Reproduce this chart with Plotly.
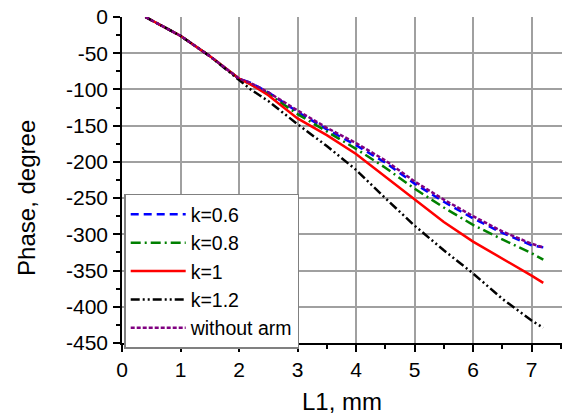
import plotly.graph_objects as go

# Arm length L1 (mm) sampled along each curve
L1 = [0.4, 1.0, 1.5, 2.0, 2.2, 2.5, 3.0, 3.5, 4.0, 4.5, 5.0, 5.5, 6.0, 6.5, 7.0, 7.2]

# Phase (degree) for each arm ratio k and for the reference without arm
phase_k06 = [0, -26, -54, -85, -91, -104, -131, -155, -177, -201, -230, -255, -278, -298, -315, -318]
phase_k08 = [0, -26, -54, -85, -93, -106, -134, -158, -182, -208, -237, -263, -287, -307, -326, -335]
phase_k10 = [0, -26, -54, -85, -93, -108, -140, -163, -189, -220, -252, -283, -310, -333, -357, -367]
phase_k12 = [0, -26, -54, -86, -100, -116, -148, -178, -211, -250, -288, -322, -354, -389, -419, -429]
phase_noarm = [0, -26, -54, -85, -91, -104, -129, -153, -174, -198, -227, -252, -275, -296, -313, -318]

series_names = ["k=0.6", "k=0.8", "k=1", "k=1.2", "without arm"]
series_values = [phase_k06, phase_k08, phase_k10, phase_k12, phase_noarm]
series_colors = ["#0000FF", "#008000", "#FF0000", "#000000", "#800080"]
series_dash = ["8px,5px", "10px,4px,2px,4px", "solid", "9px,3px,2px,3px,2px,3px", "4px,2px"]

x_ticks = [0, 1, 2, 3, 4, 5, 6, 7]
y_ticks = [0, -50, -100, -150, -200, -250, -300, -350, -400, -450]

FONT = "Arial, Liberation Sans, sans-serif"

fig = go.Figure()
for name, vals, color, dash in zip(series_names, series_values, series_colors, series_dash):
    fig.add_trace(go.Scatter(
        x=L1, y=vals, mode="lines", name=name,
        line=dict(color=color, width=2.5, dash=dash),
    ))

axis_common = dict(
    showline=True, linecolor="black", linewidth=1.5,
    showgrid=True, gridcolor="#a0a0a0", gridwidth=1.5,
    zeroline=False,
    ticks="outside", ticklen=7, tickwidth=1.5, tickcolor="black",
    tickfont=dict(family=FONT, size=21, color="black"),
    minor=dict(ticks="outside", ticklen=4, tickwidth=1.5, tickcolor="black", showgrid=False),
)

fig.update_xaxes(
    **axis_common,
    range=[0, 7.52], tickvals=x_ticks, ticktext=[str(v) for v in x_ticks],
    minor_dtick=0.5, minor_tick0=0,
    ticklabelstandoff=0,
    title=dict(text="L1, mm", font=dict(family=FONT, size=24, color="black"), standoff=13),
)
fig.update_yaxes(
    **axis_common,
    range=[-450, 0], tickvals=y_ticks, ticktext=[str(v) for v in y_ticks],
    minor_dtick=25, minor_tick0=0,
    ticklabelstandoff=1,
)

# Vertical axis title, placed to the left of the tick labels
fig.add_annotation(
    text="Phase, degree", textangle=-90,
    xref="paper", yref="paper", x=-0.216, y=0.445,
    xanchor="center", yanchor="middle", showarrow=False,
    font=dict(family=FONT, size=24, color="black"),
)

fig.update_layout(
    width=564, height=418,
    margin=dict(l=122, r=2, t=17, b=75),
    paper_bgcolor="white", plot_bgcolor="white",
    font=dict(family=FONT, color="black"),
    legend=dict(
        x=0.005, y=0.458, xanchor="left", yanchor="top",
        bgcolor="white", bordercolor="#808080", borderwidth=1.5,
        font=dict(family=FONT, size=19.5, color="black"),
        itemwidth=55, tracegroupgap=0,
    ),
)

fig.write_html("out.html")
